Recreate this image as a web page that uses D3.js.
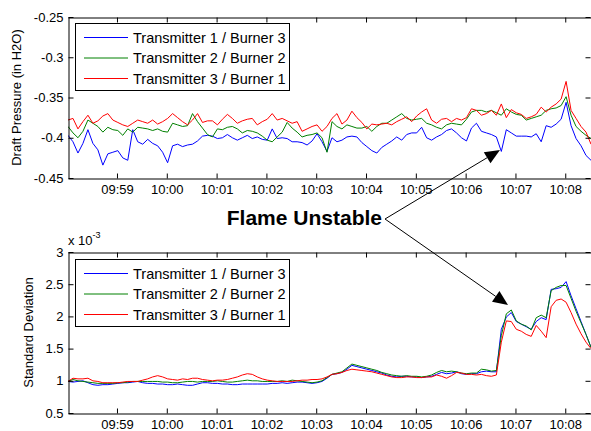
<!DOCTYPE html>
<html><head><meta charset="utf-8">
<script src="https://cdn.jsdelivr.net/npm/d3@7"></script>
<style>
html,body{margin:0;padding:0;background:#fff;}
svg{display:block;font-family:"Liberation Sans",Arial,Helvetica,sans-serif;}
</style></head>
<body><svg id="chart" width="591" height="431"></svg>
<script>
// ---- data ----
const seriesNames = ["Transmitter 1 / Burner 3", "Transmitter 2 / Burner 2", "Transmitter 3 / Burner 1"];
const seriesColors = ["#0000ff", "#008000", "#ff0000"];
const startTime = [9, 58, 1];     // hh, mm, ss of first sample
const sampleStepSec = 6;          // seconds between samples
const endTime = [10, 8, 31];
const xTickLabels = ["09:59","10:00","10:01","10:02","10:03","10:04","10:05","10:06","10:07","10:08"];
const pressureTicks = [-0.45, -0.4, -0.35, -0.3, -0.25];
const stdTicks = [0.5, 1, 1.5, 2, 2.5, 3]; // x 10^-3

// Draft pressure (in H2O)
const pressureT1 = [-0.397,-0.405,-0.419,-0.407,-0.390,-0.407,-0.415,-0.434,-0.420,-0.418,
 -0.416,-0.425,-0.428,-0.390,-0.405,-0.408,-0.402,-0.407,-0.410,-0.418,
 -0.431,-0.410,-0.408,-0.411,-0.409,-0.408,-0.404,-0.398,-0.397,-0.398,
 -0.401,-0.400,-0.396,-0.400,-0.403,-0.400,-0.397,-0.401,-0.399,-0.402,
 -0.403,-0.389,-0.401,-0.400,-0.401,-0.405,-0.405,-0.406,-0.409,-0.404,
 -0.395,-0.405,-0.417,-0.400,-0.405,-0.403,-0.399,-0.398,-0.399,-0.406,
 -0.411,-0.416,-0.419,-0.412,-0.408,-0.404,-0.399,-0.403,-0.396,-0.394,
 -0.394,-0.387,-0.400,-0.403,-0.399,-0.396,-0.391,-0.389,-0.394,-0.400,
 -0.404,-0.388,-0.382,-0.392,-0.394,-0.396,-0.399,-0.417,-0.390,-0.394,
 -0.398,-0.398,-0.398,-0.399,-0.395,-0.405,-0.385,-0.387,-0.383,-0.377,
 -0.356,-0.385,-0.401,-0.410,-0.422,-0.428];
const pressureT2 = [-0.386,-0.394,-0.400,-0.392,-0.378,-0.382,-0.386,-0.393,-0.387,-0.390,
 -0.391,-0.397,-0.389,-0.393,-0.387,-0.388,-0.389,-0.391,-0.389,-0.392,
 -0.393,-0.382,-0.384,-0.386,-0.385,-0.370,-0.380,-0.388,-0.396,-0.399,
 -0.389,-0.390,-0.387,-0.386,-0.389,-0.394,-0.391,-0.392,-0.394,-0.398,
 -0.403,-0.405,-0.399,-0.393,-0.381,-0.388,-0.393,-0.399,-0.397,-0.396,
 -0.394,-0.400,-0.418,-0.380,-0.386,-0.389,-0.384,-0.386,-0.388,-0.388,
 -0.386,-0.392,-0.386,-0.382,-0.382,-0.378,-0.374,-0.370,-0.376,-0.378,
 -0.377,-0.376,-0.382,-0.384,-0.387,-0.389,-0.384,-0.382,-0.383,-0.384,
 -0.377,-0.368,-0.366,-0.366,-0.368,-0.366,-0.369,-0.372,-0.364,-0.368,
 -0.371,-0.372,-0.378,-0.376,-0.374,-0.372,-0.366,-0.364,-0.363,-0.360,
 -0.349,-0.372,-0.386,-0.392,-0.397,-0.401];
const pressureT3 = [-0.378,-0.376,-0.389,-0.380,-0.372,-0.382,-0.379,-0.373,-0.370,-0.378,
 -0.381,-0.384,-0.386,-0.382,-0.378,-0.380,-0.382,-0.378,-0.383,-0.380,
 -0.376,-0.370,-0.375,-0.380,-0.384,-0.378,-0.370,-0.381,-0.379,-0.379,
 -0.384,-0.377,-0.371,-0.376,-0.382,-0.379,-0.377,-0.376,-0.384,-0.380,
 -0.377,-0.370,-0.378,-0.376,-0.379,-0.382,-0.380,-0.392,-0.389,-0.386,
 -0.384,-0.392,-0.386,-0.376,-0.370,-0.383,-0.378,-0.367,-0.375,-0.381,
 -0.389,-0.383,-0.384,-0.383,-0.382,-0.384,-0.380,-0.377,-0.374,-0.380,
 -0.373,-0.368,-0.364,-0.378,-0.382,-0.377,-0.376,-0.380,-0.376,-0.378,
 -0.375,-0.364,-0.366,-0.372,-0.370,-0.366,-0.372,-0.358,-0.375,-0.365,
 -0.369,-0.371,-0.376,-0.374,-0.371,-0.362,-0.368,-0.362,-0.358,-0.352,
 -0.330,-0.366,-0.376,-0.386,-0.393,-0.408];

// Standard deviation (x 10^-3)
const stdT1 = [0.99,0.98,0.99,1.00,0.97,0.94,0.93,0.94,0.94,0.95,
 0.96,0.97,0.97,0.98,0.99,0.97,0.96,0.96,0.95,0.95,
 0.94,0.94,0.95,0.94,0.93,0.93,0.95,0.97,0.97,0.96,
 0.96,0.95,0.95,0.94,0.94,0.95,0.95,0.95,0.95,0.95,
 0.95,0.96,0.96,0.97,0.96,0.97,0.98,0.98,0.97,0.96,
 0.97,0.99,1.04,1.10,1.11,1.13,1.18,1.24,1.22,1.20,
 1.18,1.16,1.14,1.12,1.09,1.07,1.06,1.07,1.07,1.06,
 1.06,1.05,1.06,1.07,1.10,1.13,1.11,1.12,1.14,1.11,
 1.10,1.11,1.11,1.14,1.15,1.14,1.14,1.80,1.99,2.06,
 1.92,1.88,1.84,1.80,1.92,1.98,1.95,2.42,2.43,2.45,
 2.54,2.32,2.12,1.92,1.72,1.52];
const stdT2 = [0.99,1.02,1.00,0.99,0.98,0.97,0.96,0.96,0.96,0.96,
 0.97,0.97,0.98,0.99,0.99,0.99,0.99,0.99,0.99,0.98,
 0.98,0.97,0.97,0.98,0.99,0.99,0.98,0.99,0.99,0.99,
 1.00,0.99,0.98,0.98,0.99,1.00,1.01,1.00,1.00,0.99,
 0.99,0.99,0.99,1.00,0.99,1.01,1.00,0.99,0.98,0.97,
 0.98,1.00,1.05,1.10,1.12,1.14,1.20,1.26,1.24,1.22,
 1.20,1.18,1.16,1.13,1.11,1.09,1.08,1.07,1.08,1.07,
 1.07,1.06,1.07,1.09,1.13,1.16,1.14,1.15,1.14,1.12,
 1.11,1.12,1.12,1.18,1.17,1.15,1.16,1.70,2.04,2.10,
 1.93,1.88,1.85,1.79,1.98,2.02,1.98,2.40,2.45,2.48,
 2.48,2.28,2.08,1.90,1.72,1.52];
const stdT3 = [0.99,1.04,1.03,1.03,1.04,1.00,0.99,0.97,0.97,0.97,
 0.97,0.98,0.99,0.99,0.99,1.01,1.03,1.06,1.08,1.06,
 1.03,1.02,1.01,1.03,1.02,1.04,1.04,1.02,1.01,1.00,
 1.01,1.01,1.02,1.04,1.06,1.09,1.11,1.10,1.06,1.03,
 1.01,1.00,0.99,0.99,0.99,0.99,1.00,1.01,1.01,1.02,
 1.02,1.03,1.06,1.10,1.11,1.13,1.16,1.18,1.17,1.16,
 1.15,1.14,1.12,1.10,1.08,1.06,1.05,1.05,1.06,1.06,
 1.05,1.05,1.06,1.06,1.09,1.07,1.04,1.08,1.13,1.12,
 1.10,1.10,1.09,1.10,1.08,1.07,1.09,1.60,1.93,1.92,
 1.80,1.77,1.72,1.69,1.86,1.77,1.67,2.15,2.25,2.27,
 2.22,2.06,1.88,1.73,1.60,1.50];

// ---- drawing ----
const svg = d3.select("#chart");
const left = 68, right = 591;
const panels = [
  {top: 17, bottom: 178, domain: [-0.45, -0.25], ticks: pressureTicks, fmt: d => String(d),
   series: [pressureT1, pressureT2, pressureT3], title: "Draft Pressure (in H2O)", titleX: 21, legendTop: 23},
  {top: 252, bottom: 413, domain: [0.5, 3], ticks: stdTicks, fmt: d => String(d),
   series: [stdT1, stdT2, stdT3], title: "Standard Deviation", titleX: 33, legendTop: 259}
];

const t0 = new Date(2000, 0, 1, startTime[0], startTime[1], startTime[2]);
const t1 = new Date(2000, 0, 1, endTime[0], endTime[1], endTime[2]);
const x = d3.scaleTime().domain([t0, t1]).range([left, right]);
const timeAt = i => new Date(t0.getTime() + i * sampleStepSec * 1000);
const xTicks = xTickLabels.map(s => { const [h, m] = s.split(":").map(Number); return new Date(2000, 0, 1, h, m, 0); });

const defs = svg.append("defs");

panels.forEach((p, pi) => {
  const y = d3.scaleLinear().domain(p.domain).range([p.bottom, p.top]);
  const g = svg.append("g");
  const clipId = "clip" + pi;
  defs.append("clipPath").attr("id", clipId).append("rect")
    .attr("x", left).attr("y", p.top).attr("width", right - left).attr("height", p.bottom - p.top);

  const line = d3.line().x((d, i) => x(timeAt(i))).y(d => y(d));
  const lg = g.append("g").attr("clip-path", `url(#${clipId})`);
  p.series.forEach((s, si) => {
    lg.append("path").datum(s).attr("d", line).attr("fill", "none")
      .attr("stroke", seriesColors[si]).attr("stroke-width", 1).attr("stroke-linejoin", "round");
  });

  const xb = d3.axisBottom(x).tickValues(xTicks).tickFormat(d3.timeFormat("%H:%M")).tickSizeInner(-5).tickSizeOuter(0).tickPadding(6);
  const gxb = g.append("g").attr("transform", `translate(0,${p.bottom + 0.5})`).call(xb);
  const xt = d3.axisTop(x).tickValues(xTicks).tickFormat("").tickSizeInner(-5).tickSizeOuter(0);
  const gxt = g.append("g").attr("transform", `translate(0,${p.top + 0.5})`).call(xt);
  const yl = d3.axisLeft(y).tickValues(p.ticks).tickFormat(p.fmt).tickSizeInner(-5).tickSizeOuter(0).tickPadding(5);
  const gyl = g.append("g").attr("transform", `translate(${left + 0.5},0)`).call(yl);
  const yr = d3.axisRight(y).tickValues(p.ticks).tickFormat("").tickSizeInner(-5).tickSizeOuter(0);
  const gyr = g.append("g").attr("transform", `translate(${right - 0.5},0)`).call(yr);
  [gxb, gxt, gyl, gyr].forEach(a => {
    a.selectAll("path.domain").attr("stroke", "#000").attr("stroke-width", 1);
    a.selectAll(".tick line").attr("stroke", "#000");
    a.selectAll("text").attr("font-size", 13).attr("fill", "#000")
      .attr("font-family", "'Liberation Sans',Arial,Helvetica,sans-serif");
  });
  gyr.select("path.domain").remove();

  g.append("text").attr("transform", `translate(${p.titleX},${(p.top + p.bottom) / 2}) rotate(-90)`)
    .attr("text-anchor", "middle").attr("font-size", 13).attr("fill", "#000").text(p.title);

  const lx = 75.5, lw = 214, lh = 67, ly = p.legendTop + 0.5;
  const leg = g.append("g");
  leg.append("rect").attr("x", lx).attr("y", ly).attr("width", lw).attr("height", lh)
    .attr("fill", "#fff").attr("stroke", "#000").attr("stroke-width", 1);
  seriesNames.forEach((n, i) => {
    const ry = ly + 14 + i * 20.5;
    leg.append("line").attr("x1", 84).attr("x2", 128).attr("y1", ry).attr("y2", ry)
      .attr("stroke", seriesColors[i]).attr("stroke-width", 1);
    leg.append("text").attr("x", 133).attr("y", ry + 5).attr("font-size", 14.5).attr("fill", "#000").text(n);
  });
});

const ex = svg.append("text").attr("x", 68).attr("y", 245).attr("font-size", 13).attr("fill", "#000");
ex.append("tspan").text("x 10");
ex.append("tspan").attr("dy", -7).attr("font-size", 9).text("-3");

svg.append("text").attr("x", 382).attr("y", 225).attr("text-anchor", "end")
  .attr("font-size", 21).attr("font-weight", "bold").attr("fill", "#000").text("Flame Unstable");

function arrow(x1, y1, x2, y2) {
  const ang = Math.atan2(y2 - y1, x2 - x1), L = 15, Wd = 6.5;
  const bx = x2 - L * Math.cos(ang), by = y2 - L * Math.sin(ang);
  svg.append("line").attr("x1", x1).attr("y1", y1).attr("x2", bx).attr("y2", by)
    .attr("stroke", "#000").attr("stroke-width", 1);
  const px = -Math.sin(ang) * Wd, py = Math.cos(ang) * Wd;
  svg.append("path").attr("d", `M${x2},${y2}L${bx + px},${by + py}L${bx - px},${by - py}Z`).attr("fill", "#000");
}
arrow(385, 219, 500, 150);
arrow(385, 219, 508, 305);
</script></body></html>
